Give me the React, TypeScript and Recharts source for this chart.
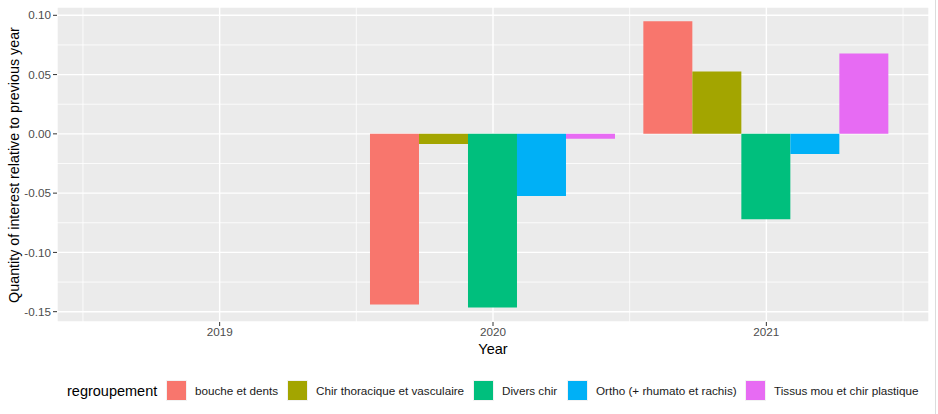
import { Bar, BarChart, CartesianGrid, XAxis, YAxis } from 'recharts'

const years = [2019, 2020, 2021]
const groups = [
  'bouche et dents',
  'Chir thoracique et vasculaire',
  'Divers chir',
  'Ortho (+ rhumato et rachis)',
  'Tissus mou et chir plastique',
]
const colors = ['#F8766D', '#A3A500', '#00BF7D', '#00B0F6', '#E76BF3']

const boucheEtDents = [null, -0.144, 0.095]
const chirThoracique = [null, -0.0085, 0.0525]
const diversChir = [null, -0.1465, -0.072]
const ortho = [null, -0.0525, -0.017]
const tissusMou = [null, -0.0042, 0.0678]

const yTicks = [-0.15, -0.1, -0.05, 0, 0.05, 0.1]
const yMinor = [-0.125, -0.075, -0.025, 0.025, 0.075]
const xMinor = [2018.5, 2019.5, 2020.5, 2021.5]

const series = [boucheEtDents, chirThoracique, diversChir, ortho, tissusMou]
const data = years.map((year, i) => {
  const row: Record<string, number | null> = { year }
  groups.forEach((g, j) => {
    row[g] = series[j][i]
  })
  return row
})

const font = 'Liberation Sans, Arial, Helvetica, sans-serif'

const legendX = [166, 287, 473, 567, 745]

export default function App() {
  return (
    <div style={{ position: 'absolute', left: 0, top: 0, width: 938, height: 414, background: '#fff', fontFamily: font }}>
      <BarChart
        width={938}
        height={414}
        data={data}
        margin={{ top: 7, right: 9, left: 0, bottom: 0 }}
        barCategoryGap="5%"
        barGap={0}
      >
        <CartesianGrid fill="#EBEBEB" stroke="#FFFFFF" strokeWidth={1.4} />
        <CartesianGrid stroke="#FFFFFF" strokeWidth={0.8} verticalValues={xMinor} horizontalValues={yMinor} />
        <XAxis
          dataKey="year"
          type="number"
          height={92}
          domain={[2018.405, 2021.595]}
          ticks={years}
          allowDataOverflow
          tick={{ fill: '#4D4D4D', fontSize: 11.7, fontFamily: font }}
          tickLine={{ stroke: '#333333', strokeWidth: 1 }}
          tickSize={4}
          tickMargin={2}
          axisLine={false}
        />
        <YAxis
          type="number"
          width={57}
          domain={[-0.1587, 0.107]}
          ticks={yTicks}
          allowDataOverflow
          tickFormatter={(v: number) => v.toFixed(2)}
          tick={{ fill: '#4D4D4D', fontSize: 11.7, fontFamily: font }}
          tickLine={{ stroke: '#333333', strokeWidth: 1 }}
          tickSize={4}
          tickMargin={2}
          axisLine={false}
        />
        {groups.map((g, j) => (
          <Bar key={g} dataKey={g} fill={colors[j]} isAnimationActive={false} />
        ))}
      </BarChart>

      <div
        style={{
          position: 'absolute',
          left: 14,
          top: 165,
          transform: 'translate(-50%, -50%) rotate(-90deg)',
          whiteSpace: 'nowrap',
          fontSize: 14.3,
          color: '#000',
        }}
      >
        Quantity of interest relative to previous year
      </div>
      <div
        style={{
          position: 'absolute',
          left: 493,
          top: 349,
          transform: 'translate(-50%, -50%)',
          fontSize: 14.5,
          color: '#000',
        }}
      >
        Year
      </div>

      <div style={{ position: 'absolute', left: 67, top: 391, transform: 'translateY(-50%)', fontSize: 14.5, color: '#000' }}>
        regroupement
      </div>
      {groups.map((g, j) => (
        <div
          key={g}
          style={{ position: 'absolute', left: legendX[j], top: 379, height: 22, display: 'flex', alignItems: 'center' }}
        >
          <div style={{ width: 21, height: 21, background: colors[j], border: '0.5px solid #F2F2F2', boxSizing: 'border-box' }} />
          <span style={{ marginLeft: 8, fontSize: 11.7, color: '#1A1A1A', whiteSpace: 'nowrap' }}>{g}</span>
        </div>
      ))}
      <div style={{ position: 'absolute', left: 935, top: 0, width: 1, height: 414, background: '#DCDCDC' }} />
    </div>
  )
}
